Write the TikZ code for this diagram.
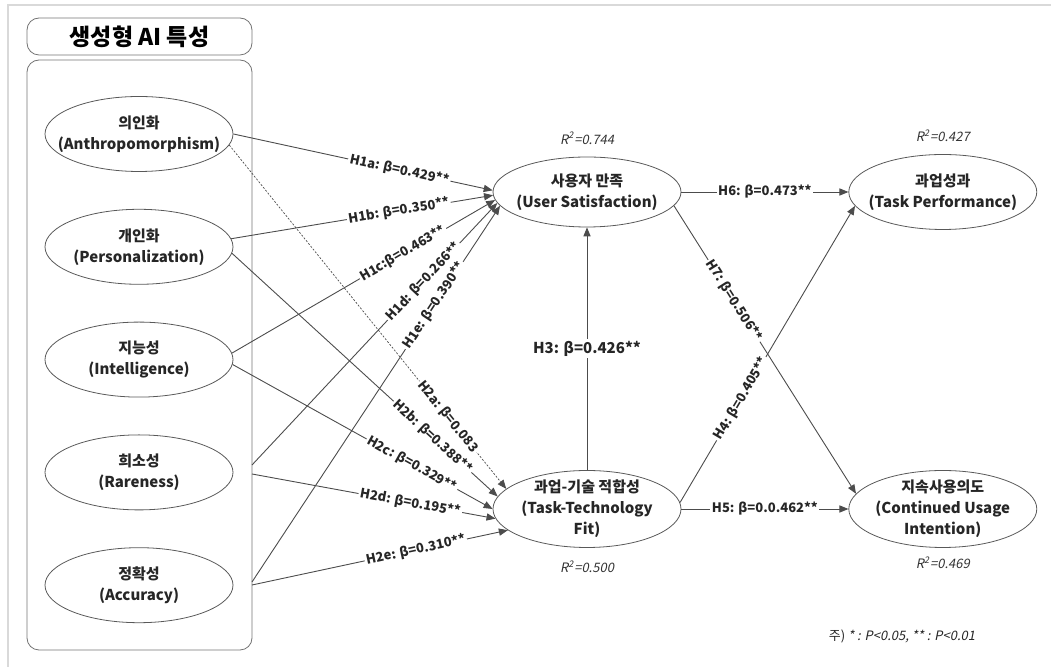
\documentclass[tikz,border=0pt]{standalone}
\usepackage{fontspec}
\setmainfont{Noto Sans CJK KR}[AutoFakeSlant=0.2]
\usetikzlibrary{arrows.meta, positioning, shapes.geometric}

\begin{document}
\begin{tikzpicture}[
    x=0.5pt, y=-0.5pt,
    ell/.style={draw=black!65, ellipse, minimum width=94pt, minimum height=37.5pt, inner xsep=-20pt, inner ysep=-4pt, align=center, text=black!85, font=\fontsize{7.5}{10.5}\selectfont\bfseries},
    grpbox/.style={draw=black!55, rounded corners=6pt, minimum width=112.5pt},
    arr/.style={-{Triangle[length=4.5pt, width=3.6pt]}, draw=black!70, line width=0.45pt},
    hyp/.style={font=\fontsize{6.5}{8}\selectfont\bfseries, fill=white, inner sep=0.8pt, sloped, text=black!85},
    rsq/.style={font=\fontsize{6.5}{8}\selectfont\itshape, text=black!80, inner sep=1pt},
]
\useasboundingbox (0,0) rectangle (1051,667);
\draw[black!15, line width=0.8pt] (8,667) -- (8,5) -- (1051,5);

\node[grpbox, minimum height=18.5pt, font=\fontsize{11.5}{13}\selectfont\bfseries] (title) at (139.5,36.5) {생성형 AI 특성};
\node[grpbox, minimum height=295pt] (grp) at (139.5,355) {};

\node[ell] (anth) at (139,134) {의인화\\(Anthropomorphism)};
\node[ell, below=18.5pt of anth] (pers) {개인화\\(Personalization)};
\node[ell, below=18.5pt of pers] (intel) {지능성\\(Intelligence)};
\node[ell, below=18.5pt of intel] (rare) {희소성\\(Rareness)};
\node[ell, below=18.5pt of rare] (accu) {정확성\\(Accuracy)};

\node[ell, minimum height=35pt] (us) at (587,192) {사용자 만족\\(User Satisfaction)};
\node[ell, minimum height=38.5pt] (ttf) at (587,509) {과업-기술 적합성\\(Task-Technology\\Fit)};
\node[ell, right=83.5pt of us] (tp) {과업성과\\(Task Performance)};
\node[ell, minimum height=38.5pt, right=83.5pt of ttf] (cui) {지속사용의도\\(Continued Usage\\Intention)};

\coordinate (rareA) at (252,465);
\coordinate (rareB) at (252,474);
\coordinate (accuA) at (252,582);
\coordinate (accuB) at (252,585);

\draw[arr] (anth.east) -- node[hyp, pos=0.64] {H1a: β=0.429**} (us.179);
\draw[arr] (pers.5)    -- node[hyp, pos=0.64] {H1b: β=0.350**} (us.182);
\draw[arr] (intel.4)   -- node[hyp, pos=0.65] {H1c:β=0.463**} (us.185);
\draw[arr] (rareA)     -- node[hyp, pos=0.70] {H1d: β=0.266**} (us.187);
\draw[arr] (accuA)     -- node[hyp, pos=0.735] {H1e: β=0.390**} (us.189);

\draw[arr, dash pattern=on 1pt off 0.8pt, line width=0.35pt] (anth.-7) -- node[hyp, pos=0.79] {H2a: β=0.083} (ttf.166);
\draw[arr] (pers.-4)   -- node[hyp, pos=0.755] {H2b: β=0.388**} (ttf.172);
\draw[arr] (intel.-3)  -- node[hyp, pos=0.69] {H2c: β=0.329**} (ttf.180);
\draw[arr] (rareB)     -- node[hyp, pos=0.65] {H2d: β=0.195**} (ttf.186);
\draw[arr] (accuB)     -- node[hyp, pos=0.64] {H2e: β=0.310**} (ttf.195);

\draw[arr] (ttf) -- node[fill=white, inner sep=1pt, text=black!85, font=\fontsize{7.5}{9}\selectfont\bfseries] {H3: β=0.426**} (us);
\draw[arr] (ttf.4)     -- node[hyp, pos=0.35] {H4: β=0.405**} (tp.189);
\draw[arr] (ttf)       -- node[hyp] {H5: β=0.0.462**} (cui);
\draw[arr] (us)        -- node[hyp] {H6: β=0.473**} (tp);
\draw[arr] (us.-9)     -- node[hyp, pos=0.33] {H7: β=0.506**} (cui.170);

\node[rsq, above=5pt of us] (usr) {R\textsuperscript{2}=0.744};
\node[rsq, below=5.5pt of ttf] (ttfr) {R\textsuperscript{2}=0.500};
\node[rsq, above=5pt of tp] (tpr) {R\textsuperscript{2}=0.427};
\node[rsq, below=3.5pt of cui] (cuir) {R\textsuperscript{2}=0.469};

\node[font=\fontsize{6.5}{8}\selectfont, text=black!85] (note) at (902,636) {주) {\itshape * : P<0.05, ** : P<0.01}};

\end{tikzpicture}
\end{document}
